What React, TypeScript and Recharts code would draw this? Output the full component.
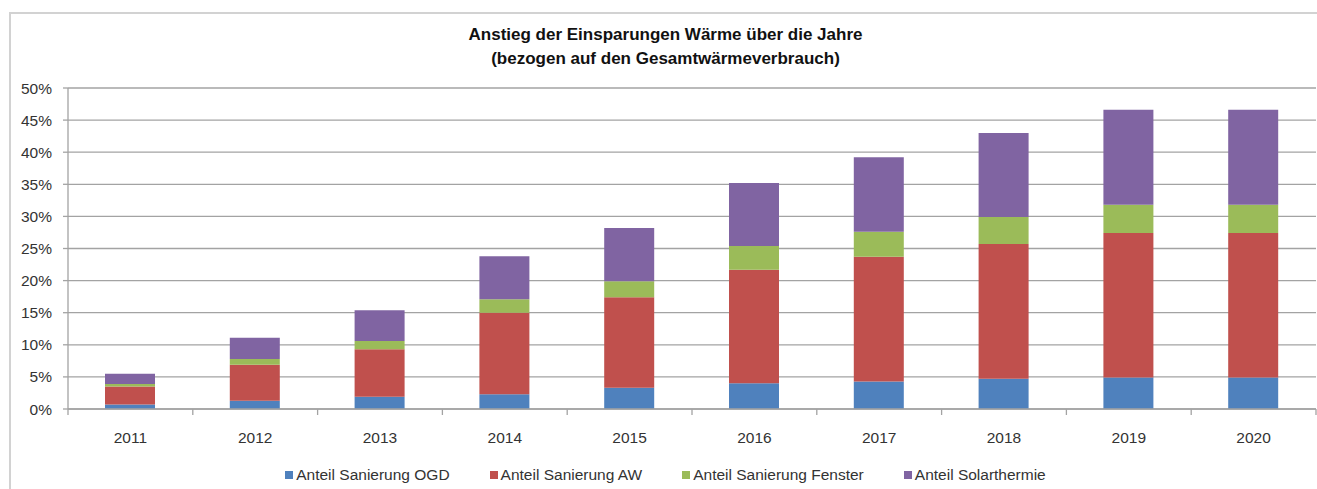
import React from 'react';
import { BarChart, Bar, XAxis, YAxis, CartesianGrid, Legend } from 'recharts';

const years = ['2011', '2012', '2013', '2014', '2015', '2016', '2017', '2018', '2019', '2020'];
const sanierungOGD = [0.7, 1.3, 1.9, 2.3, 3.3, 4.0, 4.3, 4.7, 4.9, 4.9];
const sanierungAW = [2.8, 5.6, 7.4, 12.7, 14.1, 17.7, 19.4, 21.0, 22.5, 22.5];
const sanierungFenster = [0.4, 0.9, 1.3, 2.1, 2.5, 3.7, 3.9, 4.2, 4.4, 4.4];
const solarthermie = [1.6, 3.3, 4.8, 6.7, 8.3, 9.8, 11.6, 13.1, 14.8, 14.8];
const yTicks = [0, 5, 10, 15, 20, 25, 30, 35, 40, 45, 50];
const seriesKeys = ['ogd', 'aw', 'fenster', 'solar'];
const seriesNames = ['Anteil Sanierung OGD', 'Anteil Sanierung AW', 'Anteil Sanierung Fenster', 'Anteil Solarthermie'];
const seriesColors = ['#4F81BD', '#C0504D', '#9BBB59', '#8064A2'];
const titleLines = ['Anstieg der Einsparungen Wärme über die Jahre', '(bezogen auf den Gesamtwärmeverbrauch)'];

const data = years.map((year, i) => ({
  year,
  ogd: sanierungOGD[i],
  aw: sanierungAW[i],
  fenster: sanierungFenster[i],
  solar: solarthermie[i],
}));

const FONT = '"Liberation Sans", Arial, sans-serif';
const TEXT_COLOR = '#333333';
const LINE_COLOR = '#a3a3a3';
const BORDER_COLOR = '#d2d2d2';
const X_TICK_SIZE = 6;
const X_TICK_MARGIN = 17;

const XTick = (props: any) => {
  const { x, y, payload, index, visibleTicksCount, width } = props;
  const band = Number(width) / visibleTicksCount;
  const axisY = y - X_TICK_SIZE - X_TICK_MARGIN;
  const left = x - band / 2;
  const right = x + band / 2;
  return (
    <g>
      <line x1={left} x2={left} y1={axisY} y2={axisY + X_TICK_SIZE} stroke={LINE_COLOR} strokeWidth={1.3} />
      {index === visibleTicksCount - 1 && (
        <line x1={right} x2={right} y1={axisY} y2={axisY + X_TICK_SIZE} stroke={LINE_COLOR} strokeWidth={1.3} />
      )}
      <text x={x} y={y} dy="0.71em" textAnchor="middle" fill={TEXT_COLOR} fontSize={15.5} fontFamily={FONT}>
        {payload.value}
      </text>
    </g>
  );
};

const LegendContent = (props: any) => {
  const items = [...(props.payload || [])].sort(
    (a: any, b: any) => seriesNames.indexOf(a.value) - seriesNames.indexOf(b.value)
  );
  return (
    <div
      style={{
        display: 'flex',
        justifyContent: 'center',
        gap: 40,
        height: 20,
        lineHeight: '20px',
        fontFamily: FONT,
        fontSize: 15.5,
        color: TEXT_COLOR,
        whiteSpace: 'nowrap',
      }}
    >
      {items.map((entry: any) => (
        <div key={entry.value} style={{ display: 'flex', alignItems: 'center' }}>
          <span style={{ display: 'inline-block', width: 8, height: 8, background: entry.color, marginRight: 3 }} />
          <span>{entry.value}</span>
        </div>
      ))}
    </div>
  );
};

export default function App() {
  return (
    <div
      style={{
        position: 'relative',
        width: 1317,
        height: 489,
        overflow: 'hidden',
        background: '#ffffff',
      }}
    >
      <style>{'html,body{margin:0;padding:0;overflow:hidden;}'}</style>
      <div style={{ position: 'absolute', left: 9, top: 12, width: 1308, height: 2, background: BORDER_COLOR }} />
      <div style={{ position: 'absolute', left: 9, top: 12, width: 2, height: 477, background: BORDER_COLOR }} />
      <div
        style={{
          position: 'absolute',
          left: 0,
          top: 23,
          width: 1331,
          textAlign: 'center',
          fontFamily: FONT,
          fontWeight: 'bold',
          fontSize: 17,
          lineHeight: '24px',
          color: '#111111',
          zIndex: 2,
        }}
      >
        {titleLines.map((t) => (
          <div key={t}>{t}</div>
        ))}
      </div>
      <div style={{ position: 'absolute', left: 0, top: 0 }}>
        <BarChart
          width={1317}
          height={489}
          data={data}
          margin={{ top: 88, right: 1, bottom: 30, left: 0 }}
          barSize={50}
        >
          <CartesianGrid vertical={false} stroke={LINE_COLOR} strokeWidth={1.3} />
          <XAxis
            dataKey="year"
            height={30}
            tickLine={false}
            tickSize={X_TICK_SIZE}
            tickMargin={X_TICK_MARGIN}
            axisLine={{ stroke: LINE_COLOR, strokeWidth: 1.3 }}
            tick={<XTick />}
            interval={0}
          />
          <YAxis
            width={68}
            domain={[0, 50]}
            ticks={yTicks}
            interval={0}
            tickFormatter={(v: number) => `${v}%`}
            tickSize={5}
            tickMargin={11}
            axisLine={{ stroke: LINE_COLOR, strokeWidth: 1.3 }}
            tickLine={{ stroke: LINE_COLOR, strokeWidth: 1.3 }}
            tick={{ fill: TEXT_COLOR, fontSize: 15.5, fontFamily: FONT }}
          />
          <Legend
            verticalAlign="bottom"
            itemSorter={null as any}
            content={<LegendContent />}
            wrapperStyle={{ left: 14, top: 465, width: 1303, height: 20 }}
          />
          {seriesKeys.map((k, i) => (
            <Bar
              key={k}
              dataKey={k}
              name={seriesNames[i]}
              stackId="a"
              fill={seriesColors[i]}
              isAnimationActive={false}
            />
          ))}
        </BarChart>
      </div>
    </div>
  );
}
